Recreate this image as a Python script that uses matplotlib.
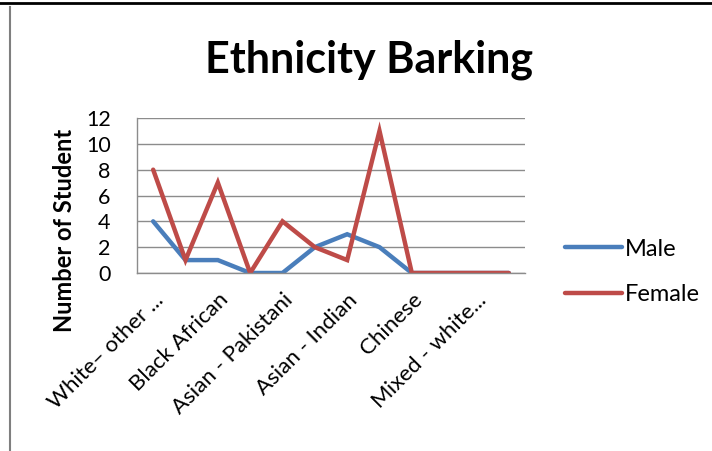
import matplotlib
matplotlib.use("Agg")
import matplotlib.pyplot as plt
from matplotlib.lines import Line2D

plt.rcParams['font.family'] = ['Lato', 'DejaVu Sans']

# Twelve ethnicity groups; only every other group is labelled on the axis
tick_labels = ["White\u2013 other ...", "Black African", "Asian - Pakistani",
               "Asian - Indian", "Chinese", "Mixed - white..."]
male = [4, 1, 1, 0, 0, 2, 3, 2, 0, 0, 0, 0]
female = [8, 1, 7, 0, 4, 2, 1, 11, 0, 0, 0, 0]
y_ticks = [0, 2, 4, 6, 8, 10, 12]

W, H = 712, 451
fig = plt.figure(figsize=(W / 100, H / 100), dpi=100)

# plot area in pixel coordinates
left, right, top, bottom = 137, 525, 118, 273
ax = fig.add_axes([left / W, 1 - bottom / H, (right - left) / W, (bottom - top) / H])

x = list(range(len(male)))
ax.plot(x, male, color="#4A7EBB", lw=3.2, solid_capstyle="round", solid_joinstyle="miter", label="Male")
ax.plot(x, female, color="#BE4B48", lw=3.2, solid_capstyle="round", solid_joinstyle="miter", label="Female")

ax.set_xlim(-0.5, len(male) - 0.5)
ax.set_ylim(0, 12)
ax.set_yticks(y_ticks)
ax.set_yticklabels([str(v) for v in y_ticks], fontsize=15.5)
ax.set_xticks(x[::2])
ax.set_xticklabels(tick_labels, rotation=45, ha="right", rotation_mode="anchor", fontsize=16)
ax.tick_params(axis="x", length=0, pad=12)
ax.tick_params(axis="y", length=0, pad=19)
ax.grid(axis="y", color="#8c8c8c", lw=1)
ax.set_axisbelow(True)
for s in ["top", "right"]:
    ax.spines[s].set_visible(False)
for s in ["left", "bottom"]:
    ax.spines[s].set_color("#8c8c8c")
    ax.spines[s].set_linewidth(1)

fig.text(65 / W, 1 - 230 / H, "Number of Student", rotation=90, ha="center", va="center",
         fontsize=17, fontweight="bold")
fig.text(369 / W, 1 - 73 / H, "Ethnicity Barking", ha="center", va="baseline",
         fontsize=31, fontweight="bold")

leg = fig.legend(loc="center left", bbox_to_anchor=(544 / W, 1 - 272 / H), frameon=False,
                 fontsize=17, handlelength=2.4, handletextpad=0.13, labelspacing=1.05)

# chart frame edges
fig.add_artist(Line2D([0, 1], [1 - 3 / H, 1 - 3 / H], color="black", lw=2))
fig.add_artist(Line2D([10 / W, 10 / W], [0, 1 - 7 / H], color="#7f7f7f", lw=1.5))

fig.savefig("out.png", dpi=100)
